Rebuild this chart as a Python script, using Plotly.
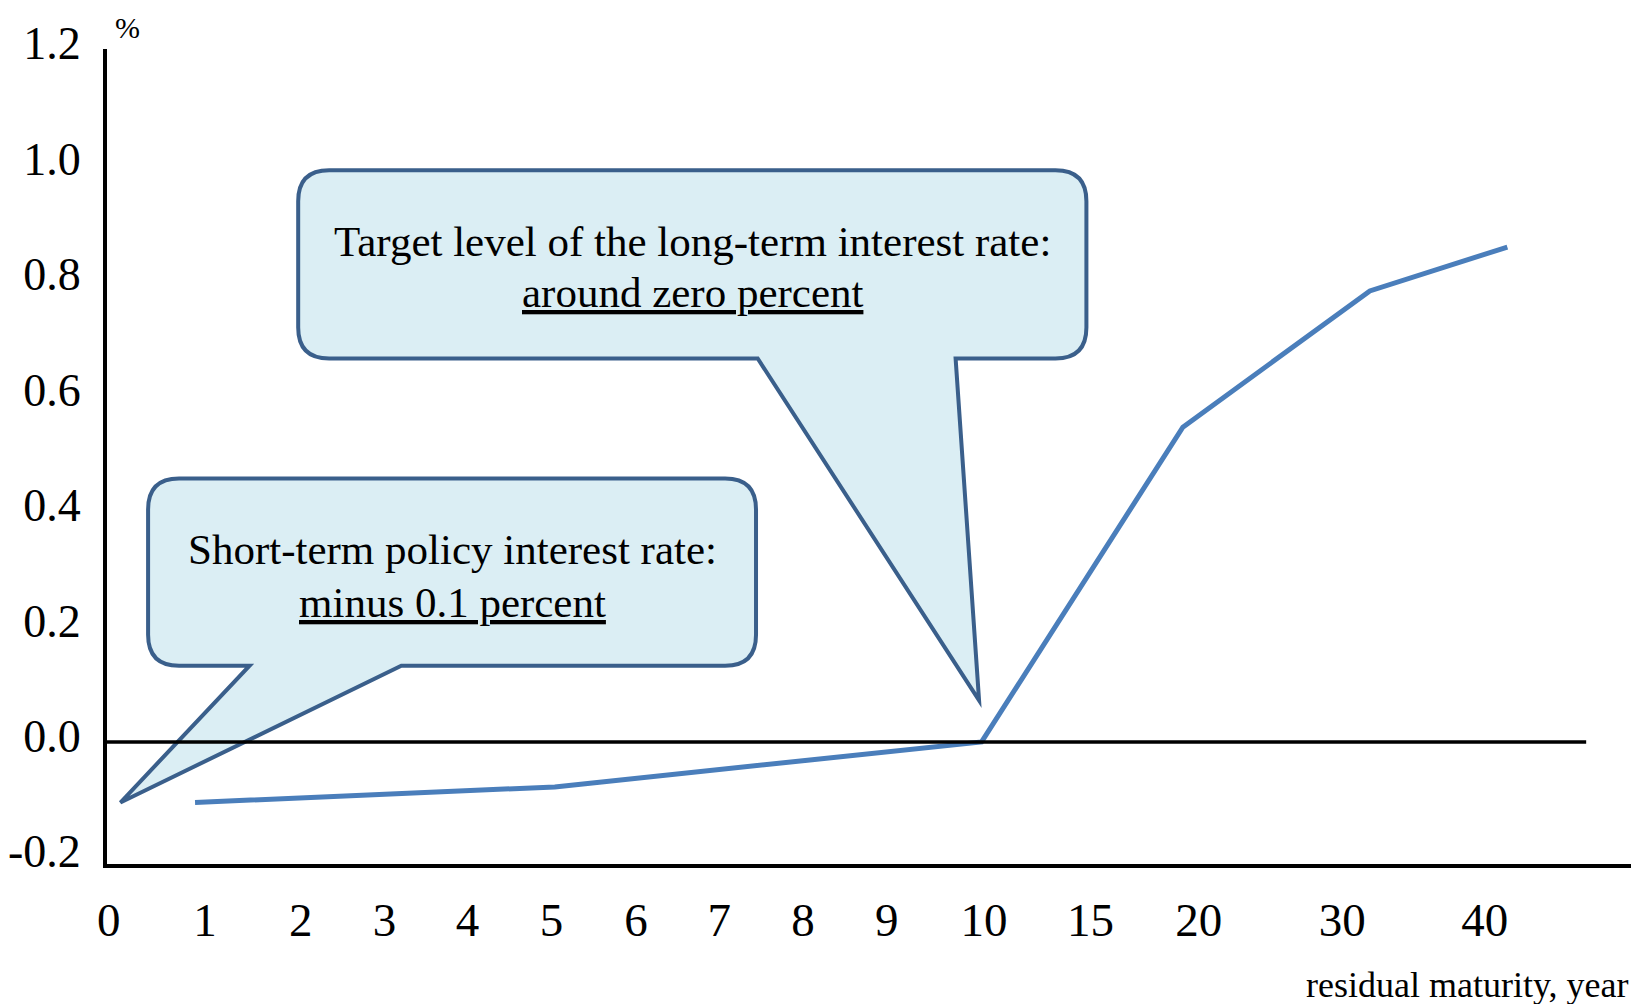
import plotly.graph_objects as go

# x positions are on a stretched "slot" scale: 0..10 roughly one slot per year,
# then 15, 20, 30, 40 squeezed in on the right (as in the original chart)
tick_labels = ["0", "1", "2", "3", "4", "5", "6", "7", "8", "9", "10", "15", "20", "30", "40"]
tick_slots = [0.02, 1.17, 2.31, 3.31, 4.30, 5.30, 6.31, 7.30, 8.30, 9.30, 10.46, 11.73, 13.02, 14.73, 16.43]

curve_slots = [1.05, 5.34, 10.43, 12.83, 15.06, 16.70]
curve_yield = [-0.105, -0.078, 0.0, 0.545, 0.781, 0.857]

y_ticks = [-0.2, 0.0, 0.2, 0.4, 0.6, 0.8, 1.0, 1.2]
y_ticktext = ["-0.2", "0.0", "0.2", "0.4", "0.6", "0.8", "1.0", "1.2"]

# page body has an 8px margin, so the figure is a bit smaller than the window
W, H = 1631, 996
M_L, M_R, M_T, M_B = 96, 0, 41, 140
X_RANGE = [0, 18.27]
Y_RANGE = [-0.2115, 1.2]

FONT = "Liberation Serif, Times New Roman, serif"
LINE_BLUE = "#4A7EBB"
BOX_FILL = "#DBEEF4"
BOX_EDGE = "#3A5F8B"

px_x = (W - M_L - M_R) / (X_RANGE[1] - X_RANGE[0])
px_y = (H - M_T - M_B) / (Y_RANGE[1] - Y_RANGE[0])
plot_h = H - M_T - M_B


def callout_path(x0, x1, y0, y1, base_l, base_r, tip, r_px=31):
    # rounded box with a tail leaving the bottom edge, all in data units
    rx, ry = r_px / px_x, r_px / px_y
    p = [
        f"M {x0 + rx},{y1}",
        f"L {x1 - rx},{y1}",
        f"Q {x1},{y1} {x1},{y1 - ry}",
        f"L {x1},{y0 + ry}",
        f"Q {x1},{y0} {x1 - rx},{y0}",
        f"L {base_r},{y0}",
        f"L {tip[0]},{tip[1]}",
        f"L {base_l},{y0}",
        f"L {x0 + rx},{y0}",
        f"Q {x0},{y0} {x0},{y0 + ry}",
        f"L {x0},{y1 - ry}",
        f"Q {x0},{y1} {x0 + rx},{y1}",
        "Z",
    ]
    return " ".join(p)


fig = go.Figure()

fig.add_trace(go.Scatter(
    x=curve_slots, y=curve_yield,
    mode="lines",
    line=dict(color=LINE_BLUE, width=5),
    showlegend=False,
    hoverinfo="skip",
))

shapes = [
    dict(type="path", xref="x", yref="y", layer="above",
         path=callout_path(0.49, 7.74, 0.132, 0.456, 1.70, 3.51, (0.16, -0.105)),
         fillcolor=BOX_FILL, line=dict(color=BOX_EDGE, width=4)),
    dict(type="path", xref="x", yref="y", layer="above",
         path=callout_path(2.28, 11.68, 0.664, 0.990, 7.76, 10.12, (10.40, 0.072)),
         fillcolor=BOX_FILL, line=dict(color=BOX_EDGE, width=4)),
    # zero line drawn over the callout tail
    dict(type="line", xref="x", yref="y", layer="above",
         x0=0, x1=17.64, y0=0, y1=0, line=dict(color="black", width=3.5)),
]

callout_font = dict(family=FONT, size=43, color="black")
annotations = [
    dict(x=4.115, y=0.333, xref="x", yref="y", showarrow=False,
         text="Short-term policy interest rate:", font=callout_font),
    dict(x=4.115, y=0.242, xref="x", yref="y", showarrow=False,
         text="<u>minus 0.1 percent</u>", font=callout_font),
    dict(x=6.98, y=0.867, xref="x", yref="y", showarrow=False,
         text="Target level of the long-term interest rate:", font=callout_font),
    dict(x=6.98, y=0.778, xref="x", yref="y", showarrow=False,
         text="<u>around zero percent</u>", font=callout_font),
    dict(x=0.25, y=1 + 21 / plot_h, xref="x", yref="paper", yanchor="middle",
         showarrow=False, text="%", font=dict(family=FONT, size=30, color="black")),
    dict(x=1, y=-121 / plot_h, xref="paper", yref="paper", xanchor="right", yanchor="middle",
         xshift=-8, showarrow=False,
         text="residual maturity, year", font=dict(family=FONT, size=36, color="black")),
]

fig.update_layout(
    width=W, height=H,
    margin=dict(l=M_L, r=M_R, t=M_T, b=M_B, pad=0),
    paper_bgcolor="white", plot_bgcolor="white",
    shapes=shapes,
    annotations=annotations,
    showlegend=False,
)

fig.update_xaxes(
    range=X_RANGE, tickvals=tick_slots, ticktext=tick_labels,
    showgrid=False, zeroline=False, showline=True, linecolor="black", linewidth=4,
    ticks="", ticklabelstandoff=12,
    tickfont=dict(family=FONT, size=47, color="black"),
)
fig.update_yaxes(
    range=Y_RANGE, tickvals=y_ticks, ticktext=y_ticktext,
    showgrid=False, zeroline=False, showline=True, linecolor="black", linewidth=4,
    ticks="", ticklabelstandoff=13, ticklabelshift=-6,
    tickfont=dict(family=FONT, size=46, color="black"),
)

fig.write_html("out.html")
